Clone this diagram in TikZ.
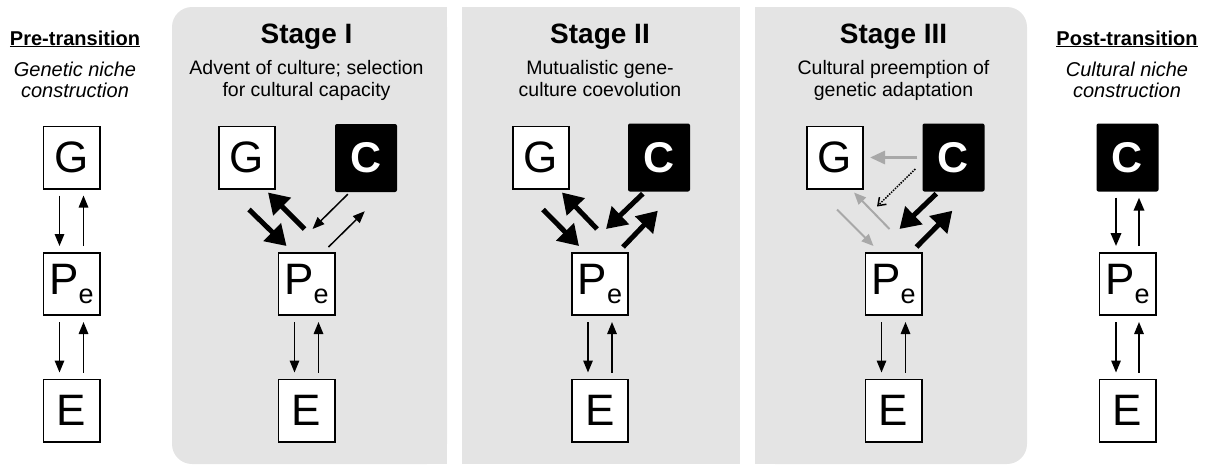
\documentclass[tikz,border=0pt]{standalone}
\usepackage{fontspec}
\setmainfont{Liberation Sans}
\usetikzlibrary{arrows.meta}
\definecolor{panelgray}{HTML}{E4E4E4}
\definecolor{fadegray}{HTML}{A8A8A8}
\begin{document}
\begin{tikzpicture}[x=1pt,y=-1pt,
  box/.style={draw=black,line width=1.6pt,fill=white,minimum width=56.4pt,minimum height=62.4pt,inner sep=0pt,font=\fontsize{44}{44}\selectfont},
  cbox/.style={fill=black,rounded corners=2pt,minimum width=62pt,minimum height=68pt,inner sep=0pt,text=white,font=\fontsize{43}{43}\selectfont\bfseries},
  thinarrow/.style={line width=1.5pt,-{Triangle[length=12pt,width=9.5pt]}},
  midarrow/.style={line width=2pt,-{Triangle[length=13pt,width=10.5pt]}},
  thickarrow/.style={line width=5pt,-{Triangle[length=20pt,width=24pt]}},
  fadethin/.style={fadegray,line width=2pt,-{Triangle[length=12pt,width=10pt]}},
  fadethick/.style={fadegray,line width=3pt,-{Triangle[length=15pt,width=13pt]}},
  dotarrow/.style={line width=1.5pt,dash pattern=on 1.5pt off 1.2pt,-{Straight Barb[length=7pt,width=10pt]}},
  vshort/.style={shorten <=6pt,shorten >=6pt},
  hdr/.style={anchor=base,inner sep=0pt,font=\fontsize{20}{20}\selectfont\bfseries},
  hsub/.style={anchor=base,inner sep=0pt,font=\fontsize{20}{20}\selectfont\itshape},
  stitle/.style={anchor=base,inner sep=0pt,font=\fontsize{28}{28}\selectfont\bfseries},
  ssub/.style={anchor=base,inner sep=0pt,font=\fontsize{19.5}{19.5}\selectfont}
]
\useasboundingbox (0,0) rectangle (1209,467);
\newcommand{\pesym}{P{\fontsize{27}{27}\selectfont\raisebox{-9pt}{e}}}

% panels
\fill[panelgray,rounded corners=20pt] (172,7) rectangle (447,464);
\fill[panelgray] (300,7) rectangle (447,464);
\fill[panelgray] (462,7) rectangle (740,464);
\fill[panelgray,rounded corners=20pt] (755,7) rectangle (1027,464);
\fill[panelgray] (755,7) rectangle (900,464);

% headers
\node[hdr] (pret) at (75,45) {\underline{Pre-transition}};
\node[hsub] (pres1) at (75,76) {Genetic niche};
\node[hsub] (pres2) at (75,97) {construction};

\node[stitle] (t1) at (306.5,43) {Stage I};
\node[ssub] (t1a) at (306.5,74) {Advent of culture; selection};
\node[ssub] (t1b) at (306.5,96) {for cultural capacity};

\node[stitle] (t2) at (600,43) {Stage II};
\node[ssub] (t2a) at (600,74) {Mutualistic gene-};
\node[ssub] (t2b) at (600,96) {culture coevolution};

\node[stitle] (t3) at (893.5,43) {Stage III};
\node[ssub] (t3a) at (893.5,74) {Cultural preemption of};
\node[ssub] (t3b) at (893.5,96) {genetic adaptation};

\node[hdr] (postt) at (1127,45) {\underline{Post-transition}};
\node[hsub] (posts1) at (1127,76) {Cultural niche};
\node[hsub] (posts2) at (1127,97) {construction};

% pre-transition
\node[box] (G0) at (71.5,157.5) {G};
\node[box] (P0) at (71.5,284) {\pesym};
\node[box] (E0) at (71.5,410.5) {E};
\draw[thinarrow,vshort] ([xshift=-12pt]G0.south) -- ([xshift=-12pt]P0.north);
\draw[thinarrow,vshort] ([xshift=12pt]P0.north) -- ([xshift=12pt]G0.south);
\draw[thinarrow,vshort] ([xshift=-12pt]P0.south) -- ([xshift=-12pt]E0.north);
\draw[thinarrow,vshort] ([xshift=12pt]E0.north) -- ([xshift=12pt]P0.south);

% stage I
\node[box] (G1) at (247,157.5) {G};
\node[cbox] (C1) at (366,158) {C};
\node[box] (P1) at (306.5,284) {\pesym};
\node[box] (E1) at (306.5,410.5) {E};
\draw[thickarrow] ([shift={(-27,20)}]G1.south east) -- ([shift={(9,-6)}]P1.north west);
\draw[thickarrow] ([shift={(27,-23)}]P1.north west) -- ([shift={(-8,3)}]G1.south east);
\draw[thinarrow] ([shift={(13,2)}]C1.south west) -- ([shift={(-23,-23)}]P1.north east);
\draw[thinarrow] ([shift={(-7,-5)}]P1.north east) -- ([shift={(30,19)}]C1.south west);
\draw[thinarrow,vshort] ([xshift=-12pt]P1.south) -- ([xshift=-12pt]E1.north);
\draw[thinarrow,vshort] ([xshift=12pt]E1.north) -- ([xshift=12pt]P1.south);

% stage II
\node[box] (G2) at (541,157.5) {G};
\node[cbox] (C2) at (659,157.5) {C};
\node[box] (P2) at (600,284) {\pesym};
\node[box] (E2) at (600,410.5) {E};
\draw[thickarrow] ([shift={(-27,20)}]G2.south east) -- ([shift={(8,-6)}]P2.north west);
\draw[thickarrow] ([shift={(26,-23)}]P2.north west) -- ([shift={(-8,3)}]G2.south east);
\draw[thickarrow] ([shift={(15,2)}]C2.south west) -- ([shift={(-23,-23)}]P2.north east);
\draw[thickarrow] ([shift={(-6,-5)}]P2.north east) -- ([shift={(30,19)}]C2.south west);
\draw[thinarrow,vshort] ([xshift=-12pt]P2.south) -- ([xshift=-12pt]E2.north);
\draw[thinarrow,vshort] ([xshift=12pt]E2.north) -- ([xshift=12pt]P2.south);

% stage III
\node[box] (G3) at (835,157.5) {G};
\node[cbox] (C3) at (953.5,157.5) {C};
\node[box] (P3) at (893.5,284) {\pesym};
\node[box] (E3) at (893.5,410.5) {E};
\draw[fadethick] ([xshift=-5pt]C3.west) -- ([xshift=6pt]G3.east);
\draw[dotarrow] ([shift={(-7,11.5)}]C3.west) -- ([shift={(13,17)}]G3.south east);
\draw[fadethin] ([shift={(-27,20)}]G3.south east) -- ([shift={(9,-6)}]P3.north west);
\draw[fadethin] ([shift={(25,-23)}]P3.north west) -- ([shift={(-10,3)}]G3.south east);
\draw[thickarrow] ([shift={(14,2)}]C3.south west) -- ([shift={(-23,-23)}]P3.north east);
\draw[thickarrow] ([shift={(-6,-5)}]P3.north east) -- ([shift={(30,19)}]C3.south west);
\draw[thinarrow,vshort] ([xshift=-12pt]P3.south) -- ([xshift=-12pt]E3.north);
\draw[thinarrow,vshort] ([xshift=12pt]E3.north) -- ([xshift=12pt]P3.south);

% post-transition
\node[cbox] (C4) at (1127.5,157.5) {C};
\node[box] (P4) at (1127.5,284) {\pesym};
\node[box] (E4) at (1127.5,410.5) {E};
\draw[midarrow,vshort] ([xshift=-11.5pt]C4.south) -- ([xshift=-11.5pt]P4.north);
\draw[midarrow,vshort] ([xshift=11.5pt]P4.north) -- ([xshift=11.5pt]C4.south);
\draw[thinarrow,vshort] ([xshift=-11.5pt]P4.south) -- ([xshift=-11.5pt]E4.north);
\draw[thinarrow,vshort] ([xshift=11.5pt]E4.north) -- ([xshift=11.5pt]P4.south);
\end{tikzpicture}
\end{document}
